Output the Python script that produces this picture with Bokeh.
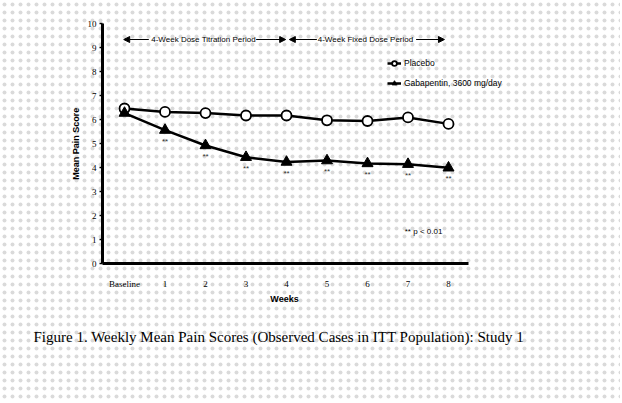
from bokeh.plotting import figure
from bokeh.models import (Range1d, FixedTicker, Label, Arrow, NormalHead,
                          Legend, LegendItem, LinearAxis)
from bokeh.core.properties import value
from bokeh.embed import file_html
from bokeh.resources import INLINE

# ---- data ----
weeks = [0, 1, 2, 3, 4, 5, 6, 7, 8]
week_labels = ["Baseline", "1", "2", "3", "4", "5", "6", "7", "8"]
placebo = [6.47, 6.33, 6.28, 6.18, 6.18, 5.98, 5.95, 6.1, 5.83]
gabapentin = [6.28, 5.57, 4.93, 4.44, 4.24, 4.3, 4.18, 4.15, 4.0]
sig_weeks = [1, 2, 3, 4, 5, 6, 7, 8]
sig_vals = [5.57, 4.93, 4.44, 4.24, 4.3, 4.18, 4.15, 4.0]
y_ticks = [0, 1, 2, 3, 4, 5, 6, 7, 8, 9, 10]

W, H = 620, 401
p = figure(width=W, height=H, output_backend="svg", toolbar_location=None,
           x_range=Range1d(-3.062, 12.247), y_range=Range1d(-5.7375, 10.971),
           min_border=0, outline_line_color=None)
p.grid.visible = False
p.background_fill_color = "white"
p.border_fill_color = "white"
for ax in p.xaxis + p.yaxis:
    ax.visible = False

# dotted paper background
p.quad(left=-10, right=20, bottom=-10, top=20, fill_alpha=0, line_color=None,
       hatch_pattern="dot", hatch_scale=8, hatch_weight=0.5, hatch_color="#dadada")

# axes
xax = LinearAxis(fixed_location=0, bounds=(-0.545, 8.49),
                 ticker=FixedTicker(ticks=weeks),
                 major_label_overrides={w: l for w, l in zip(weeks, week_labels)},
                 axis_line_width=3, axis_line_color="black",
                 major_tick_line_color=None, minor_tick_line_color=None,
                 major_label_text_font="Liberation Serif",
                 major_label_text_font_size="9px", major_label_text_color="black",
                 major_label_standoff=9)
yax = LinearAxis(fixed_location=-0.545, bounds=(0, 10),
                 ticker=FixedTicker(ticks=y_ticks),
                 axis_line_width=3, axis_line_color="black",
                 major_tick_line_color="black", major_tick_line_width=1.5,
                 major_tick_out=3, major_tick_in=0,
                 minor_tick_line_color=None,
                 major_label_text_font="Liberation Serif",
                 major_label_text_font_size="9px", major_label_text_color="black",
                 major_label_standoff=3)
p.add_layout(xax, "below")
p.add_layout(yax, "left")

# series
lp = p.line(weeks, placebo, line_color="black", line_width=2.5)
cp = p.scatter(weeks, placebo, marker="circle", size=10, fill_color="white",
               line_color="black", line_width=1.8)
lg = p.line(weeks, gabapentin, line_color="black", line_width=2.5)
tg = p.scatter(weeks, gabapentin, marker="triangle", size=11, fill_color="black",
               line_color="black")

# significance stars
p.text(sig_weeks, sig_vals, text=["**"] * len(sig_weeks), y_offset=11,
       text_align="center", text_baseline="middle", text_font_size="8px",
       text_font=value("Liberation Sans"), text_color="#333333")

legend = Legend(items=[LegendItem(label="Placebo", renderers=[lp, cp]),
                       LegendItem(label="Gabapentin, 3600 mg/day", renderers=[lg, tg])],
                location=(387, 312), background_fill_alpha=0, border_line_color=None,
                label_text_font="Liberation Sans", label_text_font_size="8.5px",
                label_text_color="black",
                glyph_width=14, glyph_height=12, spacing=8, padding=0, margin=0,
                label_standoff=3)
p.add_layout(legend, "center")

# period annotations
ya = 9.345


def head():
    return NormalHead(size=6, fill_color="black", line_color="black")


p.add_layout(Arrow(end=head(), x_start=0.6, y_start=ya, x_end=-0.02, y_end=ya, line_width=1.2))
p.add_layout(Arrow(end=head(), x_start=3.25, y_start=ya, x_end=3.98, y_end=ya, line_width=1.2))
p.add_layout(Arrow(end=head(), x_start=4.75, y_start=ya, x_end=4.07, y_end=ya, line_width=1.2))
p.add_layout(Arrow(end=head(), x_start=7.2, y_start=ya, x_end=7.9, y_end=ya, line_width=1.2))
p.add_layout(Label(x=1.95, y=ya, text="4-Week Dose Titration Period", text_align="center",
                   text_baseline="middle", text_font="Liberation Sans", text_font_size="8px",
                   text_color="black"))
p.add_layout(Label(x=5.95, y=ya, text="4-Week Fixed Dose Period", text_align="center",
                   text_baseline="middle", text_font="Liberation Sans", text_font_size="8px",
                   text_color="black"))

# axis titles / notes
p.add_layout(Label(x=-1.2, y=5.0, text="Mean Pain Score", angle=1.5708,
                   text_align="center", text_baseline="middle", text_color="black",
                   text_font="Liberation Sans", text_font_size="9px", text_font_style="bold"))
p.add_layout(Label(x=3.95, y=-1.45, text="Weeks", text_align="center", text_baseline="middle",
                   text_color="black",
                   text_font="Liberation Sans", text_font_size="9px", text_font_style="bold"))
p.add_layout(Label(x=6.92, y=1.35, text="** p < 0.01", text_align="left", text_baseline="middle",
                   text_color="black",
                   text_font="Liberation Sans", text_font_size="8px"))
p.add_layout(Label(x=-2.247, y=-3.07,
                   text="Figure 1. Weekly Mean Pain Scores (Observed Cases in ITT Population): Study 1",
                   text_align="left", text_baseline="middle", text_color="black",
                   text_font="Liberation Serif", text_font_size="15px"))

open("out.html", "w").write(file_html(p, INLINE))
